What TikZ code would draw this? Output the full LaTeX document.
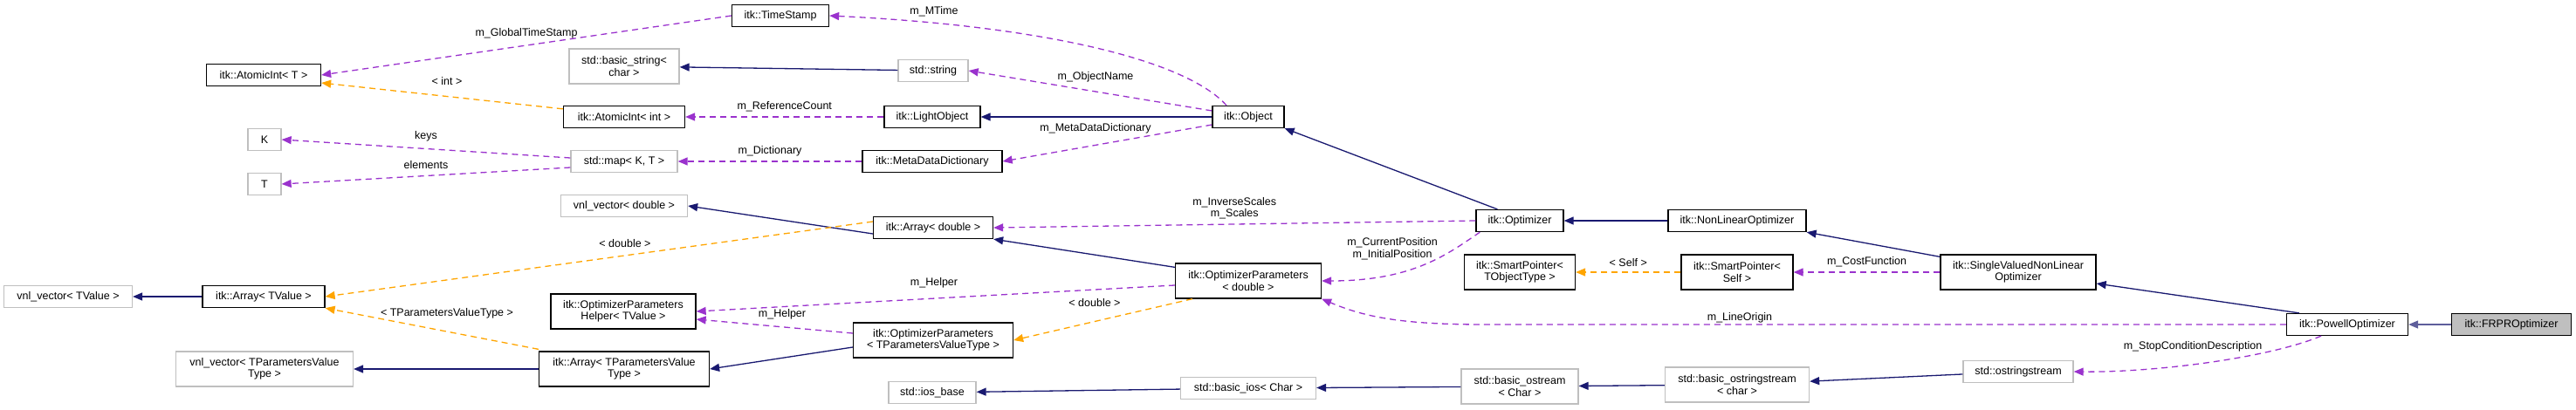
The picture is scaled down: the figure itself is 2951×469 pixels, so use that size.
\documentclass[tikz,border=0pt]{standalone}
\usepackage{fontspec}
\setmainfont{Liberation Sans}
\usetikzlibrary{arrows.meta}
\definecolor{navy}{HTML}{191970}
\definecolor{purp}{HTML}{9A32CD}
\definecolor{orng}{HTML}{FFA500}
\definecolor{gry}{HTML}{BFBFBF}
\begin{document}
\begin{tikzpicture}[x=1pt,y=-1pt,
  font=\fontsize{12.5}{13.5}\selectfont,
  box/.style={draw=black,line width=1.3pt,inner sep=0pt,minimum height=25,align=center},
  ext/.style={box,draw=gry},
  two/.style={minimum height=40},
  tip/.style={-{Triangle[length=11pt,width=9pt]}},
  inh/.style={tip,draw=navy,line width=1.3pt},
  use/.style={tip,draw=purp,line width=1.3pt,dash pattern=on 7pt off 5pt},
  tpl/.style={tip,draw=orng,line width=1.3pt,dash pattern=on 7pt off 5pt},
  lbl/.style={font=\fontsize{12.5}{13.5}\selectfont,align=center}]
\useasboundingbox (0,0) rectangle (2951,469);
% nodes
\node[box,minimum width=131] (atT) at (302,86) {itk::AtomicInt< T >};
\node[ext,minimum width=38] (K) at (303,160) {K};
\node[ext,minimum width=38] (T) at (303,211) {T};
\node[ext,minimum width=147] (vnlTV) at (78,340) {vnl\_vector< TValue >};
\node[box,minimum width=140] (arrTV) at (302,340) {itk::Array< TValue >};
\node[ext,two,minimum width=203] (vnlTP) at (303,423) {vnl\_vector< TParametersValue\\Type >};
\node[box,minimum width=111] (ts) at (894,18) {itk::TimeStamp};
\node[ext,two,minimum width=126] (bstr) at (715,76) {std::basic\_string<\\char >};
\node[ext,minimum width=80] (str) at (1069,81) {std::string};
\node[box,minimum width=139] (atI) at (715,134) {itk::AtomicInt< int >};
\node[box,minimum width=110] (lo) at (1068,134) {itk::LightObject};
\node[ext,minimum width=122] (map) at (715,185) {std::map< K, T >};
\node[box,minimum width=160] (mdd) at (1068,185) {itk::MetaDataDictionary};
\node[ext,minimum width=145] (vnlD) at (715,236) {vnl\_vector< double >};
\node[box,minimum width=137] (arrD) at (1069,261) {itk::Array< double >};
\node[box,two,minimum width=166] (help) at (714,357) {itk::OptimizerParameters\\Helper< TValue >};
\node[box,two,minimum width=183] (opTP) at (1069,390) {itk::OptimizerParameters\\< TParametersValueType >};
\node[box,two,minimum width=195] (arrTP) at (715,423) {itk::Array< TParametersValue\\Type >};
\node[ext,minimum width=100] (iosb) at (1068,450) {std::ios\_base};
\node[box,minimum width=82] (obj) at (1430,134) {itk::Object};
\node[box,minimum width=100] (opt) at (1741,253) {itk::Optimizer};
\node[box,minimum width=158] (nlo) at (1990,253) {itk::NonLinearOptimizer};
\node[box,two,minimum width=127] (spT) at (1741,312) {itk::SmartPointer<\\TObjectType >};
\node[box,two,minimum width=128] (spS) at (1990,312) {itk::SmartPointer<\\Self >};
\node[box,two,minimum width=167] (opD) at (1430,322) {itk::OptimizerParameters\\< double >};
\node[ext,minimum width=155] (bios) at (1430,445) {std::basic\_ios< Char >};
\node[ext,two,minimum width=134] (bos) at (1741,443) {std::basic\_ostream\\< Char >};
\node[ext,two,minimum width=165] (boss) at (1990,441) {std::basic\_ostringstream\\< char >};
\node[box,two,minimum width=178] (svn) at (2312,312) {itk::SingleValuedNonLinear\\Optimizer};
\node[ext,minimum width=126] (oss) at (2312,426) {std::ostringstream};
\node[box,minimum width=139] (pow) at (2689,372) {itk::PowellOptimizer};
\node[box,fill=gry,minimum width=137] (frpr) at (2877,372) {itk::FRPROptimizer};
% inheritance
\draw[inh] (str) -- (bstr);
\draw[inh] (obj) -- (lo);
\draw[inh] (opt.north west) ++(25,0) -- (obj.south east);
\draw[inh] (nlo) -- (opt);
\draw[inh] (svn.north west) ++(0,3) -- (nlo.south east);
\draw[inh] (pow.north west) ++(15,0) -- (svn.east |- 0,325);
\draw[inh,draw=navy!70] (frpr) -- (pow);
\draw[inh] (arrD.west) ++(0,7) -- (vnlD.east);
\draw[inh] (opD.north west) ++(0,5) -- (arrD.south east);
\draw[inh] (arrTV) -- (vnlTV);
\draw[inh] (arrTP) -- (vnlTP);
\draw[inh] (opTP.west) ++(0,8) -- (arrTP.east);
\draw[inh] (bios) -- (iosb);
\draw[inh] (bos) -- (bios);
\draw[inh] (boss) -- (bos);
\draw[inh] (oss) -- (boss);
% usage
\draw[use] (ts.west) -- node[lbl,above,pos=0.5,yshift=4]{m\_GlobalTimeStamp} (atT.east);
\draw[use] (obj.north) ++(-25,0) .. controls (1360,70) and (1200,30) .. (ts.east);
\node[lbl] (lMT) at (1070,13) {m\_MTime};
\draw[use] (obj.west) ++(0,-7) -- (str.east);
\node[lbl] (lON) at (1255,88) {m\_ObjectName};
\draw[use] (lo) -- node[lbl,above,yshift=2]{m\_ReferenceCount} (atI);
\draw[use] (obj.west) ++(0,9) -- (mdd.east);
\node[lbl] (lMD) at (1255,147) {m\_MetaDataDictionary};
\draw[use] (mdd) -- node[lbl,above,yshift=2]{m\_Dictionary} (map);
\draw[use] (map.west) ++(0,-4) -- node[lbl,above,yshift=4]{keys} (K.east);
\draw[use] (map.west) ++(0,7) -- node[lbl,above,yshift=4]{elements} (T.east);
\draw[use] (opt.west) -- node[lbl,above,yshift=2]{m\_InverseScales\\m\_Scales} (arrD.east);
\draw[use] (opt.south west) ++(5,0) .. controls (1660,290) and (1620,322) .. (opD.east);
\node[lbl] (lCP) at (1595,285) {m\_CurrentPosition\\m\_InitialPosition};
\draw[use] (opD.west) ++(0,5) -- (help.east);
\node[lbl] (lH1) at (1070,324) {m\_Helper};
\draw[use] (opTP.west) ++(0,-8) -- (help.east |- 0,366);
\node[lbl] (lH2) at (896,360) {m\_Helper};
\draw[use] (svn.west) -- node[lbl,above,yshift=2]{m\_CostFunction} (spS.east);
\draw[use] (pow.west) -- (1700,372) .. controls (1600,372) and (1560,362) .. (opD.south east);
\node[lbl] (lLO) at (1993,364) {m\_LineOrigin};
\draw[use] (pow.south) ++(-30,0) .. controls (2600,410) and (2470,427) .. (oss.east);
\node[lbl] (lSC) at (2512,397) {m\_StopConditionDescription};
% template
\draw[tpl] (atI.north west) ++(0,4) -- (atT.east |- 0,95);
\node[lbl] (lint) at (512,93) {< int >};
\draw[tpl] (arrD.west) ++(0,-7) -- (arrTV.east);
\node[lbl] (ld1) at (716,279) {< double >};
\draw[tpl] (arrTP.north west) ++(0,-2) -- (arrTV.south east);
\node[lbl] (lTP) at (512,359) {< TParametersValueType >};
\draw[tpl] (opD.south west) ++(20,0) -- (opTP.east);
\node[lbl] (ld2) at (1254,347) {< double >};
\draw[tpl] (spS) -- node[lbl,above,yshift=2]{< Self >} (spT);
\end{tikzpicture}
\end{document}
